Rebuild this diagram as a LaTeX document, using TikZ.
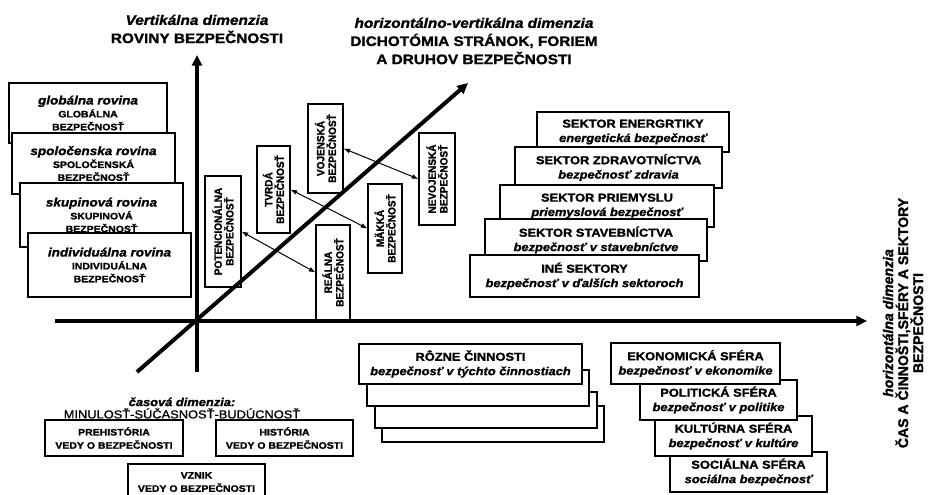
\documentclass[tikz,border=0pt]{standalone}
\usepackage{fontspec}
\setmainfont{Liberation Sans}[FakeStretch=1.12, BoldFeatures={FakeBold=1.5}, BoldItalicFeatures={FakeBold=1.5}]
\newfontfamily\rotfont{Liberation Sans}[FakeStretch=0.95, BoldFeatures={FakeBold=1.5}]
\newfontfamily\sidefont{Liberation Sans}[BoldFeatures={FakeBold=1.5}, BoldItalicFeatures={FakeBold=1.5}]
\newfontfamily\eraFont{Liberation Sans}[FakeStretch=1.12, FakeBold=1.2]
\usetikzlibrary{arrows.meta}

\begin{document}
\begin{tikzpicture}[
  x=0.3mm, y=-0.3mm,
  box/.style={rectangle, draw, fill=white, line width=0.9pt, inner sep=0pt, align=center},
  lvl/.style={box, font=\fontsize{8}{11}\selectfont\bfseries},
  sec/.style={box, font=\fontsize{9.8}{12.3}\selectfont\bfseries},
  duo/.style={box, rotate=90, font=\rotfont\fontsize{9}{10}\selectfont\bfseries},
  epo/.style={box, font=\fontsize{8}{11.3}\selectfont\bfseries},
  sz/.style 2 args={minimum width=#1*0.3mm, minimum height=#2*0.3mm},
  title/.style={align=center, font=\fontsize{11.7}{15.5}\selectfont\bfseries},
  axis/.style={line width=3.4pt, -{Triangle[length=3.2mm, width=3mm]}},
  pair/.style={line width=0.85pt, {Latex[length=2mm, width=1.5mm]}-{Latex[length=2mm, width=1.5mm]}}
]
\useasboundingbox (0,0) rectangle (933,495);

\node[title] (vert) at (197,29) {{\itshape Vertikálna dimenzia}\\ROVINY BEZPEČNOSTI};
\node[title] (dich) at (474,41) {{\itshape horizontálno-vertikálna dimenzia}\\DICHOTÓMIA STRÁNOK, FORIEM\\A DRUHOV BEZPEČNOSTI};
\node[title, rotate=90, font=\sidefont\fontsize{12}{12.8}\selectfont\bfseries] (hor) at (903,323) {{\itshape horizontálna dimenzia}\\ČAS A ČINNOŠTI,SFÉRY A SEKTORY\\BEZPEČNOSTI};

\node[lvl, sz={158}{60}] (glob) at (88,113) {{\fontsize{10.3}{11}\selectfont\itshape globálna rovina}\\GLOBÁLNA\\BEZPEČNOSŤ};
\node[lvl, sz={163}{61}] (spol) at (93.5,163.5) {{\fontsize{10.3}{11}\selectfont\itshape spoločenska rovina}\\SPOLOČENSKÁ\\BEZPEČNOSŤ};
\node[lvl, sz={163}{64}] (skup) at (101.5,215) {{\fontsize{10.3}{11}\selectfont\itshape skupinová rovina}\\SKUPINOVÁ\\BEZPEČNOSŤ};
\node[lvl, sz={163}{64}] (indi) at (109.5,265) {{\fontsize{10.3}{11}\selectfont\itshape individuálna rovina}\\INDIVIDUÁLNA\\BEZPEČNOSŤ};

\node[sec, sz={192}{40}] (ener) at (633,132) {SEKTOR ENERGRTIKY\\{\itshape energetická bezpečnosť}};
\node[sec, sz={207}{41}] (zdra) at (618.5,167.5) {SEKTOR ZDRAVOTNÍCTVA\\{\itshape bezpečnosť zdravia}};
\node[sec, sz={214}{42}] (prie) at (607,206) {SEKTOR PRIEMYSLU\\{\itshape priemyslová bezpečnosť}};
\node[sec, sz={222}{42}] (stav) at (596,240) {SEKTOR STAVEBNÍCTVA\\{\itshape bezpečnosť v stavebníctve}};
\node[sec, sz={229}{42}] (ine) at (584.5,276) {INÉ SEKTORY\\{\itshape bezpečnosť v ďalších sektoroch}};

\node[sec, sz={222}{36}] (act3) at (493,424) {};
\node[sec, sz={222}{36}] (act2) at (486,410) {};
\node[sec, sz={222}{36}] (act1) at (478,388) {};
\node[sec, sz={223}{40}] (act) at (470.5,364) {RÔZNE ČINNOSTI\\{\itshape bezpečnosť v týchto činnostiach}};

\node[sec, sz={157}{40}] (soc) at (748.5,472) {SOCIÁLNA SFÉRA\\{\itshape sociálna bezpečnosť}};
\node[sec, sz={157}{40}] (kul) at (733.5,436) {KULTÚRNA SFÉRA\\{\itshape bezpečnosť v kultúre}};
\node[sec, sz={157}{40}] (pol) at (718.5,400) {POLITICKÁ SFÉRA\\{\itshape bezpečnosť v politike}};
\node[sec, sz={169}{41}] (eko) at (695.5,363.5) {EKONOMICKÁ SFÉRA\\{\itshape bezpečnosť v ekonomike}};

\node[align=center, font=\fontsize{9.8}{10.5}\selectfont] (cas) at (182,408) {{\bfseries\itshape časová dimenzia:}\\{\eraFont MINULOSŤ-SÚČASNOSŤ-BUDÚCNOSŤ}};
\node[epo, sz={138}{36}] (preh) at (114,438) {PREHISTÓRIA\\VEDY O BEZPEČNOSTI};
\node[epo, sz={137}{36}] (hist) at (284.5,438) {HISTÓRIA\\VEDY O BEZPEČNOSTI};
\node[epo, sz={137}{36}] (vzni) at (196.5,482) {VZNIK\\VEDY O BEZPEČNOSTI};

\node[duo, sz={111}{36}] (pot) at (223,231.5) {POTENCIONÁLNA\\BEZPEČNOSŤ};
\node[duo, sz={87}{33}] (tvrd) at (273.5,189.5) {TVRDÁ\\BEZPEČNOSŤ};
\node[duo, sz={89}{35}] (voj) at (325.5,148.5) {VOJENSKÁ\\BEZPEČNOSŤ};
\node[duo, sz={95}{34}] (real) at (333,272.5) {REÁLNA\\BEZPEČNOSŤ};
\node[duo, sz={89}{34}] (makk) at (385,228.5) {MÄKKÁ\\BEZPEČNOSŤ};
\node[duo, sz={92}{36}] (nevoj) at (437,179) {NEVOJENSKÁ\\BEZPEČNOSŤ};

\coordinate (vbot) at (197,372);
\coordinate (vtop) at (197,55);
\coordinate (hbeg) at (55,321);
\coordinate (hend) at (867,321);
\coordinate (dbot) at (137,372);
\coordinate (dtop) at (468,83);

\draw[axis] (vbot) -- (vtop);
\draw[axis] (hbeg) -- (hend);
\draw[axis] (dbot) -- (dtop);

\draw[pair] (pot.south) -- (real.north);
\draw[pair] (tvrd.south) -- (makk.north);
\draw[pair] (voj.south) -- (nevoj.north);
\end{tikzpicture}
\end{document}
